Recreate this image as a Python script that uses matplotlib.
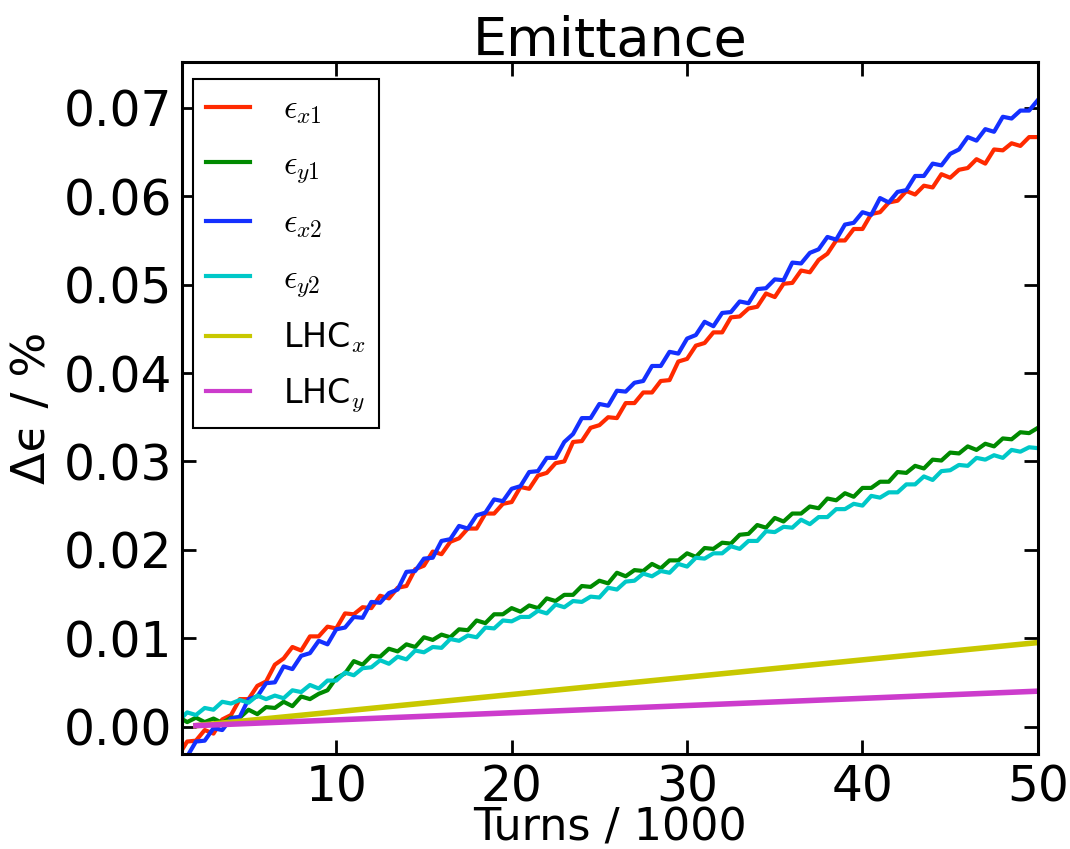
import numpy as np
import matplotlib
matplotlib.use('Agg')
import matplotlib.pyplot as plt
from matplotlib.font_manager import FontProperties

# turns / 1000, one sample every 500 turns
turns = np.arange(1.0, 50.01, 0.5)

# emittance growth (%)
eps_x1 = [-0.0033, -0.0017, -0.0016, -0.0004, -0.0008, 0.0008, 0.0013, 0.0031, 0.0031, 0.0046,
          0.0051, 0.0070, 0.0077, 0.0090, 0.0086, 0.0102, 0.0102, 0.0113, 0.0111, 0.0128,
          0.0127, 0.0135, 0.0134, 0.0148, 0.0145, 0.0157, 0.0159, 0.0178, 0.0182, 0.0198,
          0.0195, 0.0209, 0.0213, 0.0224, 0.0224, 0.0241, 0.0241, 0.0252, 0.0254, 0.0271,
          0.0269, 0.0284, 0.0287, 0.0298, 0.0300, 0.0322, 0.0323, 0.0338, 0.0341, 0.0350,
          0.0349, 0.0366, 0.0366, 0.0378, 0.0378, 0.0391, 0.0392, 0.0413, 0.0416, 0.0431,
          0.0434, 0.0446, 0.0446, 0.0463, 0.0464, 0.0473, 0.0475, 0.0490, 0.0486, 0.0501,
          0.0502, 0.0516, 0.0514, 0.0528, 0.0535, 0.0550, 0.0550, 0.0563, 0.0563, 0.0580,
          0.0582, 0.0593, 0.0595, 0.0606, 0.0602, 0.0612, 0.0610, 0.0625, 0.0621, 0.0630,
          0.0632, 0.0642, 0.0637, 0.0653, 0.0652, 0.0660, 0.0657, 0.0667, 0.0667]

eps_y1 = [0.0011, 0.0005, 0.0010, 0.0005, 0.0009, 0.0004, 0.0010, 0.0010, 0.0019, 0.0014,
          0.0022, 0.0021, 0.0028, 0.0023, 0.0034, 0.0031, 0.0037, 0.0041, 0.0055, 0.0060,
          0.0074, 0.0070, 0.0080, 0.0079, 0.0088, 0.0085, 0.0093, 0.0090, 0.0101, 0.0098,
          0.0104, 0.0101, 0.0110, 0.0109, 0.0120, 0.0117, 0.0127, 0.0127, 0.0134, 0.0130,
          0.0137, 0.0134, 0.0145, 0.0142, 0.0149, 0.0149, 0.0159, 0.0158, 0.0165, 0.0162,
          0.0174, 0.0170, 0.0177, 0.0176, 0.0184, 0.0179, 0.0188, 0.0188, 0.0196, 0.0192,
          0.0202, 0.0201, 0.0208, 0.0207, 0.0217, 0.0218, 0.0228, 0.0225, 0.0236, 0.0232,
          0.0241, 0.0241, 0.0249, 0.0247, 0.0258, 0.0256, 0.0264, 0.0260, 0.0270, 0.0270,
          0.0277, 0.0277, 0.0288, 0.0287, 0.0295, 0.0292, 0.0302, 0.0301, 0.0310, 0.0309,
          0.0317, 0.0313, 0.0320, 0.0317, 0.0326, 0.0325, 0.0333, 0.0332, 0.0338]

eps_x2 = [-0.0036, -0.0034, -0.0017, -0.0016, -0.0002, -0.0004, 0.0009, 0.0011, 0.0031, 0.0034,
          0.0049, 0.0050, 0.0068, 0.0065, 0.0080, 0.0083, 0.0097, 0.0093, 0.0110, 0.0112,
          0.0124, 0.0123, 0.0141, 0.0140, 0.0151, 0.0155, 0.0175, 0.0176, 0.0190, 0.0191,
          0.0210, 0.0212, 0.0227, 0.0224, 0.0239, 0.0242, 0.0257, 0.0255, 0.0269, 0.0272,
          0.0288, 0.0289, 0.0304, 0.0304, 0.0322, 0.0331, 0.0349, 0.0349, 0.0365, 0.0363,
          0.0380, 0.0379, 0.0389, 0.0391, 0.0408, 0.0408, 0.0424, 0.0422, 0.0439, 0.0443,
          0.0458, 0.0453, 0.0468, 0.0469, 0.0481, 0.0479, 0.0495, 0.0496, 0.0506, 0.0505,
          0.0525, 0.0524, 0.0536, 0.0540, 0.0554, 0.0551, 0.0568, 0.0570, 0.0582, 0.0579,
          0.0598, 0.0593, 0.0605, 0.0607, 0.0623, 0.0623, 0.0637, 0.0635, 0.0648, 0.0653,
          0.0667, 0.0663, 0.0676, 0.0673, 0.0690, 0.0688, 0.0697, 0.0697, 0.0709]

eps_y2 = [0.0006, 0.0016, 0.0013, 0.0021, 0.0019, 0.0028, 0.0026, 0.0030, 0.0027, 0.0035,
          0.0031, 0.0035, 0.0032, 0.0041, 0.0039, 0.0047, 0.0043, 0.0052, 0.0052, 0.0061,
          0.0058, 0.0066, 0.0067, 0.0075, 0.0071, 0.0079, 0.0076, 0.0086, 0.0084, 0.0090,
          0.0089, 0.0099, 0.0097, 0.0103, 0.0101, 0.0112, 0.0111, 0.0120, 0.0119, 0.0124,
          0.0124, 0.0131, 0.0128, 0.0138, 0.0135, 0.0142, 0.0141, 0.0147, 0.0146, 0.0157,
          0.0155, 0.0164, 0.0165, 0.0173, 0.0170, 0.0176, 0.0174, 0.0184, 0.0181, 0.0191,
          0.0190, 0.0196, 0.0196, 0.0204, 0.0201, 0.0210, 0.0210, 0.0221, 0.0220, 0.0226,
          0.0225, 0.0234, 0.0229, 0.0237, 0.0237, 0.0246, 0.0246, 0.0252, 0.0250, 0.0261,
          0.0259, 0.0265, 0.0265, 0.0274, 0.0274, 0.0283, 0.0279, 0.0289, 0.0290, 0.0296,
          0.0295, 0.0304, 0.0302, 0.0307, 0.0304, 0.0313, 0.0311, 0.0316, 0.0315]

# LHC reference growth (straight lines)
lhc_turns = [2.0, 50.0]
lhc_x = [0.0001, 0.0095]
lhc_y = [0.0001, 0.0040]

fig, ax = plt.subplots(figsize=(10.7, 8.49), dpi=100)
fig.subplots_adjust(left=0.170, right=0.970, bottom=0.112, top=0.927)

ax.plot(turns, eps_x1, color='#ff2a00', lw=3, label=r'$\epsilon_{x1}$')
ax.plot(turns, eps_y1, color='#008a00', lw=3, label=r'$\epsilon_{y1}$')
ax.plot(turns, eps_x2, color='#1430ff', lw=3, label=r'$\epsilon_{x2}$')
ax.plot(turns, eps_y2, color='#00c8c8', lw=3, label=r'$\epsilon_{y2}$')
ax.plot(lhc_turns, lhc_x, color='#c8c800', lw=4, label=r'LHC$_x$')
ax.plot(lhc_turns, lhc_y, color='#cc3ccc', lw=4, label=r'LHC$_y$')

ax.set_xlim(1.2, 50)
ax.set_ylim(-0.0031, 0.0752)
ax.set_xticks([10, 20, 30, 40, 50])
ax.set_yticks([0.0, 0.01, 0.02, 0.03, 0.04, 0.05, 0.06, 0.07])
ax.yaxis.set_major_formatter(matplotlib.ticker.FormatStrFormatter('%.2f'))

ax.tick_params(direction='in', length=10, width=2, labelsize=35,
               top=True, right=True, pad=7)
for s in ax.spines.values():
    s.set_linewidth(2.2)

ax.set_title('Emittance', fontsize=39, pad=4)
ax.set_xlabel('Turns / 1000', fontsize=32, labelpad=-4)
ax.set_ylabel('Δϵ / %', fontsize=34, labelpad=6)

leg = ax.legend(loc='upper left', bbox_to_anchor=(0.013, 0.975), borderaxespad=0,
                prop=FontProperties(size=24, math_fontfamily='cm'),
                fancybox=False, framealpha=1, edgecolor='black',
                handlelength=1.3, labelspacing=0.64, borderpad=0.4, handletextpad=1.0)
leg.get_frame().set_linewidth(1.5)
for line in leg.get_lines():
    line.set_linewidth(3)

plt.savefig('out.png', dpi=100)
